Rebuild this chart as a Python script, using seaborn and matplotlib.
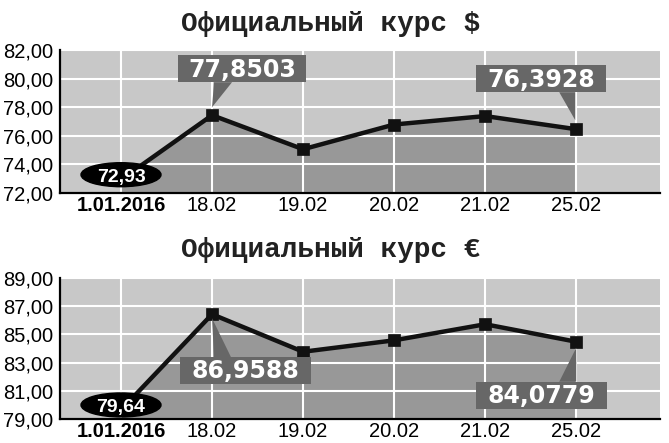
"""Official USD / EUR exchange rate charts."""

import matplotlib
matplotlib.use("Agg")
import matplotlib.pyplot as plt
import matplotlib.transforms as mtransforms
from matplotlib.patches import Ellipse, Polygon, Rectangle
import numpy as np
import pandas as pd
import seaborn as sns

# Data
dates = ["1.01.2016", "18.02", "19.02", "20.02", "21.02", "25.02"]
usd_rate = [72.93, 77.44, 75.06, 76.79, 77.38, 76.46]
eur_rate = [79.64, 86.43, 83.77, 84.58, 85.72, 84.48]
usd_ticks = [72, 74, 76, 78, 80, 82]
eur_ticks = [79, 81, 83, 85, 87, 89]
usd_title = "Официальный курс $"
eur_title = "Официальный курс €"
usd_first_label = "72,93"
eur_first_label = "79,64"
usd_callouts = {1: "77,8503", 5: "76,3928"}
eur_callouts = {1: "86,9588", 5: "84,0779"}

# Callout shapes in pixels relative to the point: box (x0, x1, y0, y1), triangle, text baseline
usd_shapes = {
    1: ((-34, 94, 33, 60), [(0, 8), (2, 33), (20, 33)], 38),
    5: ((-100, 30, 37, 64), [(-1, 9), (-17, 37), (-1, 37)], 42),
}
eur_shapes = {
    1: ((-32, 99, -70, -43), [(0, -4), (2, -43), (19, -43)], -64),
    5: ((-100, 31, -67, -40), [(0, -6), (-17, -40), (0, -40)], -61),
}

sns.set_theme(style="whitegrid", rc={
    "axes.facecolor": "#c8c8c8",
    "grid.color": "white",
    "grid.linewidth": 1.5,
    "axes.edgecolor": "black",
})
plt.rcParams['font.family'] = ['Liberation Sans', 'DejaVu Sans']

BOX_COLOR = "#676767"
FILL_COLOR = "#989898"


def draw_panel(fig, ax, values, yticks, first_label, callouts, shapes):
    px = 1.0 / fig.dpi
    x = np.arange(len(dates))
    df = pd.DataFrame({"pos": x, "rate": values})

    ax.fill_between(x, values, yticks[0], color=FILL_COLOR, lw=0, zorder=0.3)
    sns.lineplot(data=df, x="pos", y="rate", ax=ax, color="#111111", lw=3.2,
                 marker="s", markersize=8, markeredgecolor="#111111",
                 markeredgewidth=0.5, zorder=3)

    ax.set_xticks(x, dates)
    ax.set_yticks(yticks, [f"{t:.2f}".replace(".", ",") for t in yticks])
    ax.set_xlabel("")
    ax.set_ylabel("")
    for side in ["top", "right"]:
        ax.spines[side].set_visible(False)
    for side in ["left", "bottom"]:
        ax.spines[side].set_color("black")
        ax.spines[side].set_linewidth(1.6)
    ax.set_axisbelow(True)
    ax.grid(True, color="white", lw=1.5)
    ax.tick_params(direction="in", length=5, width=1.5, color="black",
                   labelsize=14.5, labelcolor="black", pad=5)
    ax.tick_params(axis="x", pad=2, length=4)
    ax.get_xticklabels()[0].set_fontweight("bold")

    # first value: black ellipse
    trans = fig.dpi_scale_trans + mtransforms.ScaledTranslation(x[0], values[0], ax.transData)
    ax.add_patch(Ellipse((0, 5 * px), 80 * px, 24 * px, transform=trans,
                         color="black", zorder=6, clip_on=False))
    ax.text(0, -2 * px, first_label, transform=trans, ha="center", va="baseline",
            color="white", fontsize=14, fontweight="bold", zorder=7)

    # callouts
    for idx, label in callouts.items():
        (bx0, bx1, by0, by1), tri, base = shapes[idx]
        trans = fig.dpi_scale_trans + mtransforms.ScaledTranslation(x[idx], values[idx], ax.transData)
        ax.add_patch(Rectangle((bx0 * px, by0 * px), (bx1 - bx0) * px, (by1 - by0) * px,
                               transform=trans, color=BOX_COLOR, lw=0, zorder=6, clip_on=False))
        ax.add_patch(Polygon([(a * px, b * px) for a, b in tri], closed=True,
                             transform=trans, color=BOX_COLOR, lw=0, zorder=6, clip_on=False))
        ax.text((bx0 + bx1) / 2 * px, base * px, label, transform=trans,
                ha="center", va="baseline", color="white", fontsize=17,
                fontweight="bold", family="DejaVu Sans", zorder=7)

    ax.set_xlim(-0.67, 5.92)
    ax.set_ylim(yticks[0], yticks[-1])


fig = plt.figure(figsize=(6.69, 4.43), dpi=100)
W, H = 669, 443
ax_top = fig.add_axes([60 / W, 1 - 193 / H, 600 / W, 143 / H])
ax_bot = fig.add_axes([60 / W, 1 - 419 / H, 600 / W, 141 / H])

draw_panel(fig, ax_top, usd_rate, usd_ticks, usd_first_label, usd_callouts, usd_shapes)
draw_panel(fig, ax_bot, eur_rate, eur_ticks, eur_first_label, eur_callouts, eur_shapes)

title_kw = dict(ha="center", va="baseline", fontsize=20, fontweight="bold",
                family="Liberation Mono", color="#222222")
fig.text(331 / W, 1 - 31 / H, usd_title, **title_kw)
fig.text(331 / W, 1 - 257 / H, eur_title, **title_kw)

fig.savefig("out.png", dpi=100)
plt.close(fig)
